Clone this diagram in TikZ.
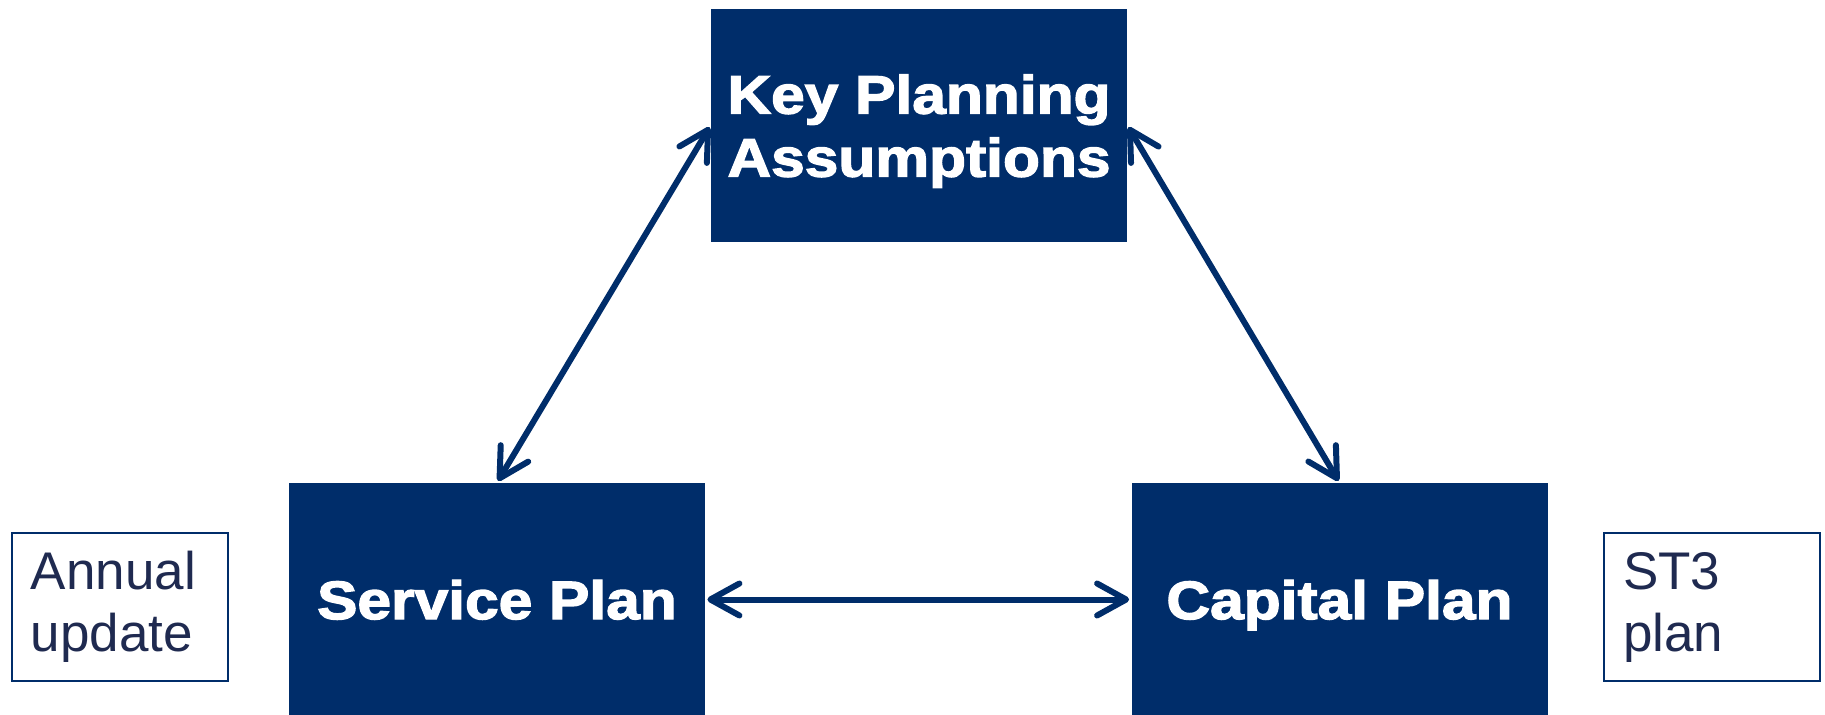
\documentclass[tikz,border=0pt]{standalone}
\usepackage{fontspec}
\setmainfont{Liberation Sans}
\newfontfamily\headfont[FakeStretch = 1.12, BoldFeatures = {FakeBold = 2.5}]{Liberation Sans}
\usetikzlibrary{arrows.meta}
\definecolor{navy}{RGB}{0,45,106}
\definecolor{inknavy}{RGB}{31,42,80}

\begin{document}
\begin{tikzpicture}[x = 0.5pt, y = -0.5pt,
    plan/.style = {fill = navy, text = white, minimum width = 208pt, minimum height = 116.5pt, inner sep = 0pt, align = center, text depth = 0pt, font = \headfont\bfseries\fontsize{27}{31.5}\selectfont},
    note/.style = {draw = navy, line width = 1pt, text = inknavy, minimum width = 108pt, minimum height = 74pt, inner xsep = 9.5pt, inner ysep = 0pt, text width = 89pt, align = left, font = \fontsize{26.5}{31}\selectfont},
    link/.style = {navy, line width = 3pt, shorten <= 1pt, shorten >= 1pt, >= {Straight Barb[length = 14.5pt, width = 16pt, round]}, <->}]
      \useasboundingbox (0,0) rectangle (1825,715);

      \node[plan] (kpa) at (919,125.5)  {Key Planning\\Assumptions};
      \node[plan] (sp)  at (497,599.5)  {Service Plan};
      \node[plan] (cp)  at (1339.5,599.5) {Capital Plan};
      \node[note] (au)  at (120,607)    {Annual\\update};
      \node[note] (st3) at (1712,607)   {ST3\\plan};

      \path[link] (kpa.west) edge (sp.north)
                  (kpa.east) edge (cp.north)
                  (sp.east)  edge (cp.west);
    \end{tikzpicture}
\end{document}
